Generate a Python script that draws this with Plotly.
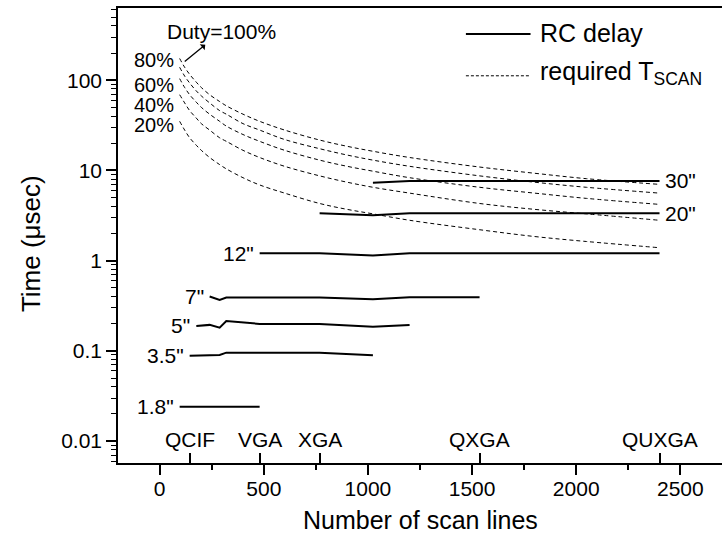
import math
import plotly.graph_objects as go

# ---- data -------------------------------------------------------------
# required T_SCAN curves (dashed)
scan_lines = [96, 120, 144, 176, 200, 240, 288, 320, 400, 480, 600, 768, 900, 1024, 1200, 1536, 1800, 2048, 2400]
duty100 = [174, 139, 116, 95, 83, 69, 58, 52, 42, 35, 28, 21.7, 18.5, 16.3, 13.9, 10.9, 9.3, 8.1, 7.0]
duty80 = [139, 111, 93, 76, 67, 56, 46, 42, 33, 28, 22, 17.4, 14.8, 13.0, 11.1, 8.7, 7.4, 6.5, 5.6]
duty60 = [104, 83, 69, 57, 50, 42, 35, 31, 25, 21, 16.7, 13.0, 11.1, 9.8, 8.3, 6.5, 5.6, 4.9, 4.2]
duty40 = [69, 56, 46, 38, 33, 28, 23, 21, 16.7, 13.9, 11.1, 8.7, 7.4, 6.5, 5.6, 4.3, 3.7, 3.3, 2.8]
duty20 = [35, 28, 23, 19, 16.7, 13.9, 11.6, 10.4, 8.3, 6.9, 5.6, 4.3, 3.7, 3.3, 2.8, 2.2, 1.85, 1.63, 1.39]
duty_labels = ["80%", "60%", "40%", "20%"]
duty_label_y = [168, 89, 53, 32]

# RC delay (solid) per panel size
rc_30_x = [1024, 1200, 1536, 2400]
rc_30_y = [7.3, 7.65, 7.65, 7.65]
rc_20_x = [768, 1024, 1200, 1536, 2400]
rc_20_y = [3.35, 3.19, 3.35, 3.35, 3.35]
rc_12_x = [480, 768, 1024, 1200, 1536, 2400]
rc_12_y = [1.21, 1.21, 1.14, 1.21, 1.21, 1.21]
rc_7_x = [240, 288, 320, 480, 768, 1024, 1200, 1536]
rc_7_y = [0.40, 0.367, 0.389, 0.39, 0.39, 0.373, 0.393, 0.393]
rc_5_x = [176, 240, 288, 320, 480, 768, 1024, 1200]
rc_5_y = [0.189, 0.194, 0.181, 0.2145, 0.199, 0.199, 0.1855, 0.194]
rc_35_x = [144, 288, 320, 480, 768, 1024]
rc_35_y = [0.0885, 0.090, 0.0955, 0.0955, 0.0955, 0.0894]
rc_18_x = [96, 480]
rc_18_y = [0.024, 0.024]

format_names = ["QCIF", "VGA", "XGA", "QXGA", "QUXGA"]
format_lines = [144, 480, 768, 1536, 2400]

x_ticks = [0, 500, 1000, 1500, 2000, 2500]
y_ticks = [0.01, 0.1, 1, 10, 100]
y_ticktext = ["0.01", "0.1", "1", "10", "100"]

FONT = "Arial, Liberation Sans, sans-serif"
LBL = 21

fig = go.Figure()

for ys in [duty100, duty80, duty60, duty40, duty20]:
    fig.add_trace(go.Scatter(x=scan_lines, y=ys, mode="lines", showlegend=False,
                             line=dict(color="black", width=1, dash="4px,3px", shape="spline")))

rc_sets = [(rc_30_x, rc_30_y, '30"', "end"), (rc_20_x, rc_20_y, '20"', "end"),
           (rc_12_x, rc_12_y, '12"', "start"), (rc_7_x, rc_7_y, '7"', "start"),
           (rc_5_x, rc_5_y, '5"', "start"), (rc_35_x, rc_35_y, '3.5"', "start"),
           (rc_18_x, rc_18_y, '1.8"', "start")]
for xs, ys, lab, pos in rc_sets:
    fig.add_trace(go.Scatter(x=xs, y=ys, mode="lines", showlegend=False,
                             line=dict(color="black", width=2)))
    if pos == "end":
        fig.add_annotation(x=xs[-1], y=math.log10(ys[-1]), text=lab, showarrow=False,
                           xanchor="left", yanchor="middle", xshift=3,
                           font=dict(size=LBL, color="black", family=FONT))
    else:
        fig.add_annotation(x=xs[0], y=math.log10(ys[0]), text=lab, showarrow=False,
                           xanchor="right", yanchor="middle", xshift=-4,
                           font=dict(size=LBL, color="black", family=FONT))

# invisible trace for the second x axis (format ticks)
fig.add_trace(go.Scatter(x=format_lines, y=[1] * len(format_lines), xaxis="x2",
                         mode="markers", marker=dict(opacity=0), showlegend=False,
                         hoverinfo="skip"))

for lab, yv in zip(duty_labels, duty_label_y):
    fig.add_annotation(x=scan_lines[0], y=math.log10(yv), text=lab, showarrow=False,
                       xanchor="right", yanchor="middle", xshift=-4,
                       font=dict(size=20, color="black", family=FONT))

# "Duty=100%" with arrow whose head sits next to the text
fig.add_annotation(x=113, y=math.log10(156), text="Duty=100%", showarrow=True,
                   ax=38, ay=-31, arrowside="start", arrowhead=2, arrowsize=1,
                   arrowwidth=1.3, arrowcolor="black", startstandoff=0, standoff=2,
                   font=dict(size=LBL, color="black", family=FONT))

for name, xv in zip(format_names, format_lines):
    fig.add_annotation(x=xv, y=math.log10(0.0103), text=name, showarrow=False,
                       xanchor="center", yanchor="middle",
                       font=dict(size=LBL, color="black", family=FONT))

# legend (drawn manually)
fig.add_shape(type="line", xref="paper", yref="paper", x0=0.576, x1=0.683, y0=0.943, y1=0.943,
              line=dict(color="black", width=2))
fig.add_shape(type="line", xref="paper", yref="paper", x0=0.576, x1=0.683, y0=0.851, y1=0.851,
              line=dict(color="black", width=1, dash="3px,2px"))
fig.add_annotation(xref="paper", yref="paper", x=0.695, y=0.945, text="RC delay",
                   showarrow=False, xanchor="left", yanchor="middle",
                   font=dict(size=25, color="black", family=FONT))
fig.add_annotation(xref="paper", yref="paper", x=0.695, y=0.858, text="required T<sub>SCAN</sub>",
                   showarrow=False, xanchor="left", yanchor="middle",
                   font=dict(size=25, color="black", family=FONT))

# axis titles
fig.add_annotation(xref="paper", yref="paper", x=0.5, y=-0.126, text="Number of scan lines",
                   showarrow=False, xanchor="center", yanchor="middle",
                   font=dict(size=25, color="black", family=FONT))
fig.add_annotation(xref="paper", yref="paper", x=-0.145, y=0.482, text="Time (\u03bcsec)",
                   showarrow=False, xanchor="center", yanchor="middle", textangle=-90,
                   font=dict(size=26, color="black", family=FONT))

fig.update_layout(
    width=722, height=545,
    margin=dict(l=118, r=0, t=8, b=82),
    paper_bgcolor="white", plot_bgcolor="white",
    showlegend=False,
    font=dict(family=FONT, color="black"),
    xaxis=dict(range=[-200, 2700], tickvals=x_ticks, ticks="outside", ticklen=10,
               tickwidth=1.5, linewidth=1.5, linecolor="black", mirror=True,
               showgrid=False, zeroline=False, tickfont=dict(size=21, family=FONT),
               ticklabelstandoff=-4,
               minor=dict(tickvals=[-250, 250, 750, 1250, 1750, 2250], ticks="outside",
                          ticklen=5, tickwidth=1.5, tickcolor="black"),
               tickcolor="black"),
    xaxis2=dict(range=[-200, 2700], overlaying="x", anchor="y", side="bottom",
                tickvals=format_lines, ticks="inside", ticklen=10, tickwidth=1.5,
                tickcolor="black", showticklabels=False, showgrid=False,
                zeroline=False, showline=False),
    yaxis=dict(type="log", range=[-2.243, 2.80], tickvals=y_ticks, ticktext=y_ticktext,
               ticks="outside", ticklen=10, tickwidth=1.5, linewidth=1.5,
               linecolor="black", showgrid=False, zeroline=False, tickcolor="black",
               tickfont=dict(size=21, family=FONT),
               minor=dict(dtick="D1", ticks="outside", ticklen=5, tickwidth=1,
                          tickcolor="black")),
)

fig.write_html("out.html")
